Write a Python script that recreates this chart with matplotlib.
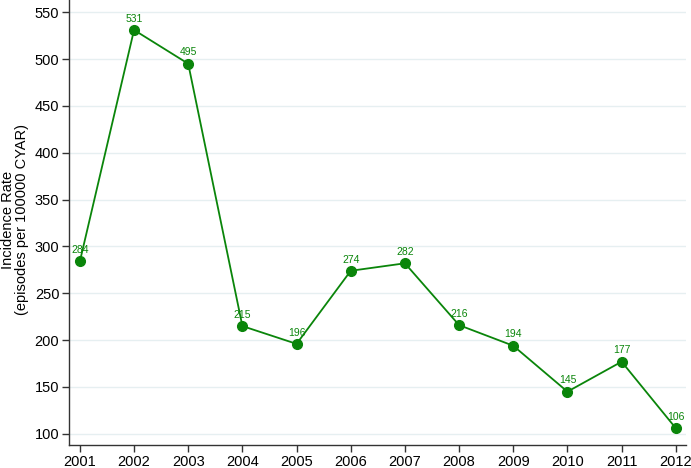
import matplotlib
matplotlib.use('Agg')
import matplotlib.pyplot as plt

plt.rcParams['font.family'] = ['Liberation Sans', 'DejaVu Sans']

years = [2001, 2002, 2003, 2004, 2005, 2006, 2007, 2008, 2009, 2010, 2011, 2012]
rates = [284, 531, 495, 215, 196, 274, 282, 216, 194, 145, 177, 106]
yticks = [100, 150, 200, 250, 300, 350, 400, 450, 500, 550]

green = '#0a850a'

fig = plt.figure(figsize=(6.91, 4.68), dpi=100)
ax = fig.add_axes([0.0999, 0.049, 0.893, 0.951])

ax.plot(years, rates, color=green, lw=1.3, marker='o', ms=7, zorder=3)
for x, y in zip(years, rates):
    ax.annotate(str(y), (x, y), xytext=(0, 4.5), textcoords='offset points',
                ha='center', va='bottom', fontsize=7.5, color=green)

ax.set_xlim(2000.8, 2012.19)
ax.set_ylim(88, 563)
ax.set_xticks(years)
ax.set_yticks(yticks)
ax.yaxis.grid(True, color='#e6eff1', lw=1)
ax.set_axisbelow(True)

for s in ['top', 'right']:
    ax.spines[s].set_visible(False)
for s in ['left', 'bottom']:
    ax.spines[s].set_color('#333333')
    ax.spines[s].set_linewidth(1.0)

ax.tick_params(axis='both', labelsize=10.5, length=5, color='#333333', width=1, pad=2)

# y label placed as figure text so it sits inside the canvas
fig.text(0.021, 0.53, 'Incidence Rate\n(episodes per 100000 CYAR)', fontsize=10.5,
         rotation=90, ha='center', va='center', linespacing=1.0, multialignment='center')

fig.savefig('out.png', dpi=100)
